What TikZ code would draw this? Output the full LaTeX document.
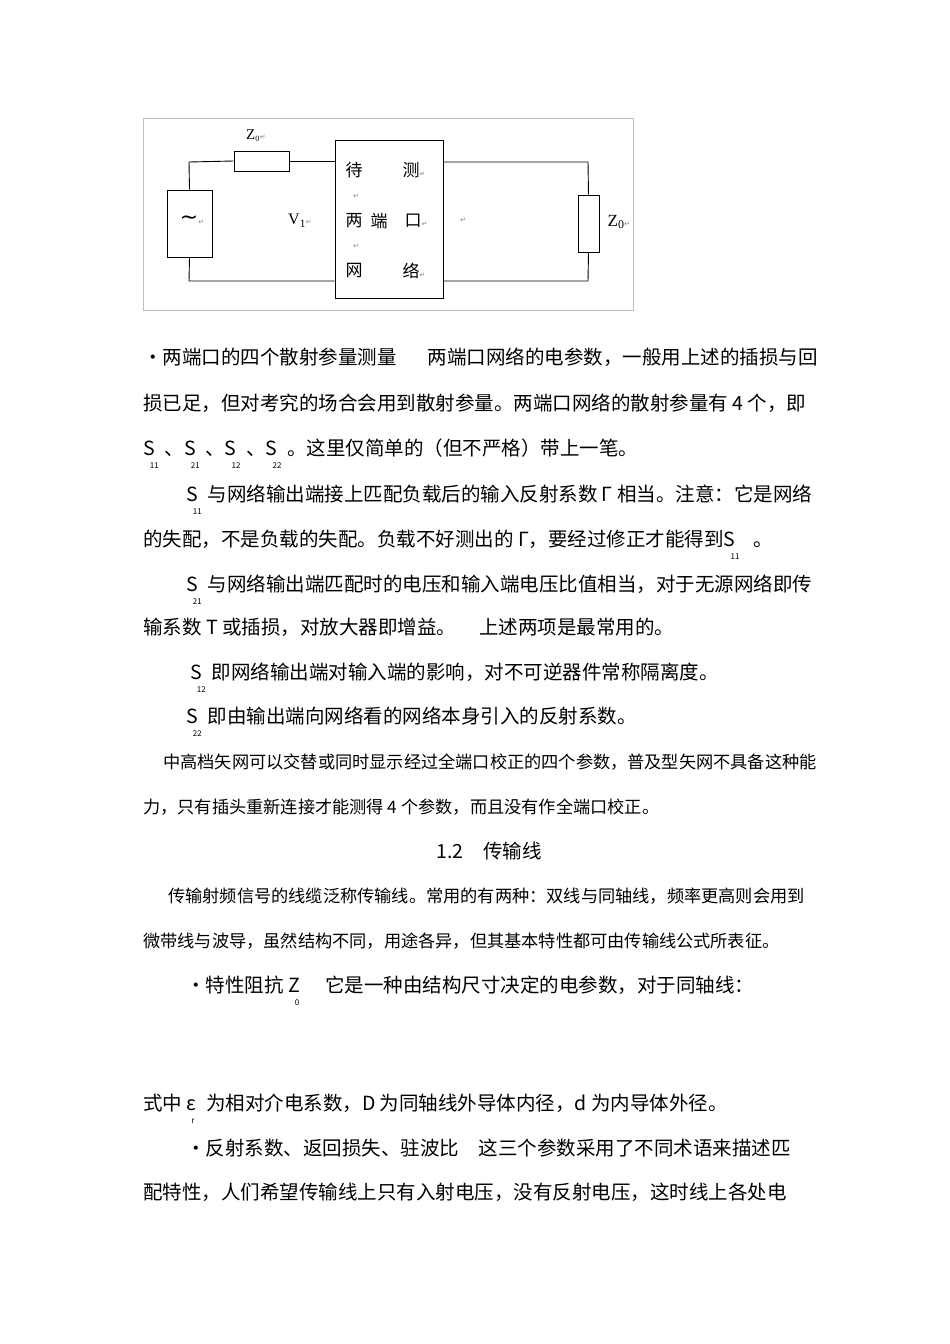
\documentclass[tikz,border=0pt]{standalone}
\usepackage{fontspec}
\setmainfont{Noto Sans CJK SC}
\newfontfamily\dv{DejaVu Sans}
\newfontfamily\lser{Liberation Serif}
\newcommand\rt{{\dv\fontsize{7}{7}\selectfont\color{gray}↵}}
\newcommand\Sx[2]{#1\makebox[0pt][l]{\hspace{-0.25em}\raisebox{-0.7em}{\fontsize{8}{8}\selectfont #2}}\hspace{0.5em}}
\begin{document}
\begin{tikzpicture}[x=1pt,y=-1pt,
  ln/.style={anchor=base west,inner sep=0pt,font=\fontsize{19.5}{20}\selectfont},
  sm/.style={anchor=base west,inner sep=0pt,font=\fontsize{17.2}{18}\selectfont},
  wire/.style={line width=0.9pt},
  comp/.style={draw,line width=0.9pt,fill=white,inner sep=0pt}]
\fill[white] (0,0) rectangle (950,1344);
\useasboundingbox (0,0) rectangle (950,1344);
% circuit
\draw[gray!50,line width=0.8pt] (143,118) rectangle (633,310);
\node[comp,minimum width=108pt,minimum height=158pt] (box) at (389,219) {};
\node[comp,minimum width=45pt,minimum height=67pt] (src) at (189.5,223.5) {};
\node[comp,minimum width=55pt,minimum height=20pt] (r1) at (261.5,161) {};
\node[comp,minimum width=21pt,minimum height=57pt] (r2) at (588.5,223.5) {};
\coordinate (tl) at (189,162); \coordinate (bl) at (189,281);
\coordinate (tr) at (588,162); \coordinate (br) at (588,281);
\draw[wire] (src.north) -- (tl) -- (r1.west);
\draw[wire] (r1.east) -- (r1.east -| box.west);
\draw[wire] (src.south) -- (bl) -- (bl -| box.west);
\draw[wire] (tr -| box.east) -- (tr) -- (r2.north);
\draw[wire] (r2.south) -- (br) -- (br -| box.east);
\node[font=\lser\fontsize{15}{15}\selectfont] (z1) at (256,136) {Z\textsubscript{\fontsize{8}{8}\selectfont 0}\rt};
\node[font=\fontsize{22}{22}\selectfont] (til) at (192,220) {\dv\char"223C\rt};
\node[font=\lser\fontsize{16}{16}\selectfont] (v1) at (300,221) {V\textsubscript{1}\rt};
\node[font=\lser\fontsize{17}{17}\selectfont] (z2) at (619,222) {Z\textsubscript{0}\rt};
\node (rt0) at (463,220) {\rt};
\begin{scope}[every node/.style={font=\fontsize{17}{17}\selectfont,inner sep=0pt}]
\node (c1) at (354,170) {待};
\node (c2) at (414,170) {测\rt};
\node (c3) at (356,196) {\rt};
\node (c4) at (354,221) {两};
\node (c5) at (379,221) {端};
\node (c6) at (416,221) {口\rt};
\node (c7) at (356,246) {\rt};
\node (c8) at (354,271) {网};
\node (c9) at (414,271) {络\rt};
\end{scope}
% text
\node[ln] (t1) at (143,364) {·两端口的四个散射参量测量\hspace{1.6em}两端口网络的电参数，一般用上述的插损与回};
\node[ln] (t2) at (143,410) {损已足，但对考究的场合会用到散射参量。两端口网络的散射参量有 4 个，即};
\node[ln] (t3) at (143,455) {\Sx{S}{11}、\Sx{S}{21}、\Sx{S}{12}、\Sx{S}{22}。这里仅简单的（但不严格）带上一笔。};
\node[ln] (t4) at (186,501) {\Sx{S}{11}与网络输出端接上匹配负载后的输入反射系数 Γ 相当。注意：它是网络};
\node[ln] (t5) at (143,546) {的失配，不是负载的失配。负载不好测出的 Γ，要经过修正才能得到\Sx{S}{11}\hspace{0.4em}。};
\node[ln] (t6) at (186,591) {\Sx{S}{21}与网络输出端匹配时的电压和输入端电压比值相当，对于无源网络即传};
\node[ln] (t7) at (143,634) {输系数 T 或插损，对放大器即增益。\hspace{1.2em}上述两项是最常用的。};
\node[ln] (t8) at (190,679) {\Sx{S}{12}即网络输出端对输入端的影响，对不可逆器件常称隔离度。};
\node[ln] (t9) at (186,723) {\Sx{S}{22}即由输出端向网络看的网络本身引入的反射系数。};
\node[sm] (t10) at (163,768) {中高档矢网可以交替或同时显示经过全端口校正的四个参数，普及型矢网不具备这种能};
\node[sm] (t11) at (143,813) {力，只有插头重新连接才能测得 4 个参数，而且没有作全端口校正。};
\node[ln,anchor=base] (t12) at (489,858) {1.2\hspace{1em}传输线};
\node[sm] (t13) at (168,902) {传输射频信号的线缆泛称传输线。常用的有两种：双线与同轴线，频率更高则会用到};
\node[sm] (t14) at (143,947) {微带线与波导，虽然结构不同，用途各异，但其基本特性都可由传输线公式所表征。};
\node[ln] (t15) at (186,992) {·特性阻抗 \Sx{Z}{0}\hspace{0.8em}它是一种由结构尺寸决定的电参数，对于同轴线：};
\node[ln] (t16) at (143,1110) {式中 \Sx{ε}{r}为相对介电系数，D 为同轴线外导体内径，d 为内导体外径。};
\node[ln] (t17) at (186,1155) {·反射系数、返回损失、驻波比\hspace{1em}这三个参数采用了不同术语来描述匹};
\node[ln] (t18) at (143,1199) {配特性，人们希望传输线上只有入射电压，没有反射电压，这时线上各处电};
\end{tikzpicture}
\end{document}
